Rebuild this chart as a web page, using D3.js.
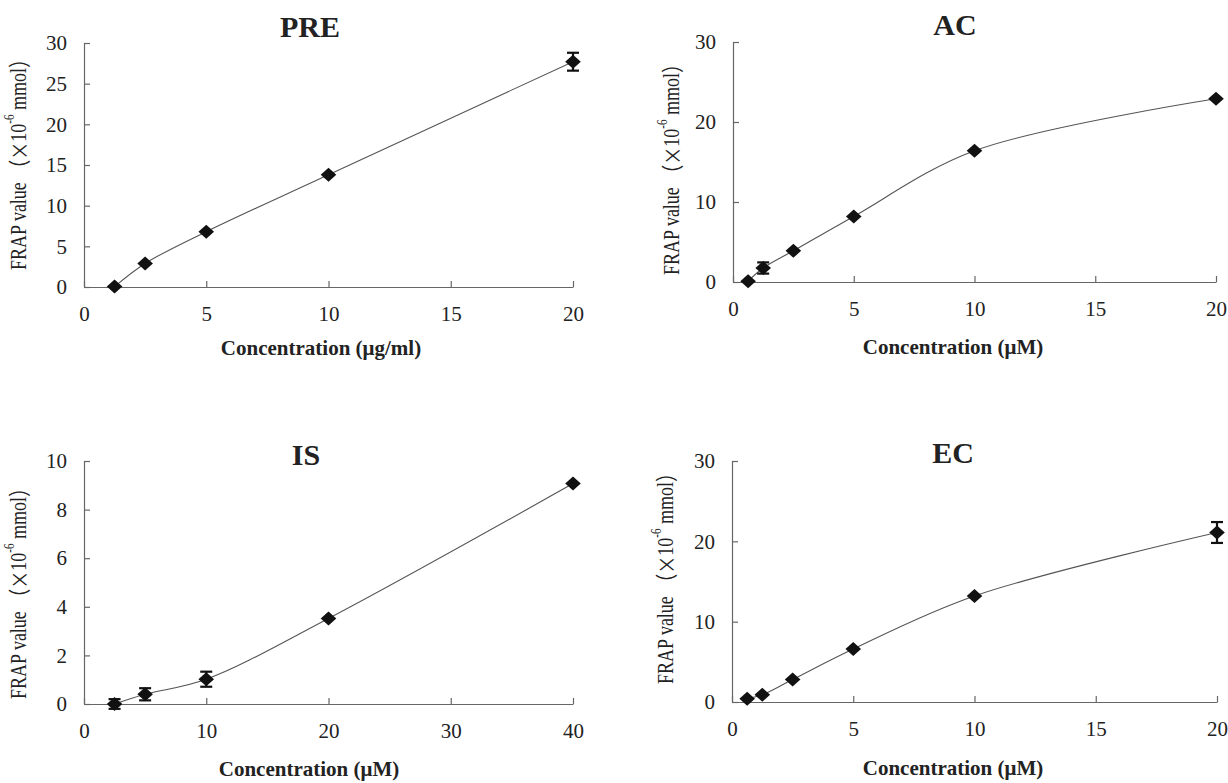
<!DOCTYPE html>
<html>
<head>
<meta charset="utf-8">
<script src="https://cdn.jsdelivr.net/npm/d3@7"></script>
<style>
  body { margin: 0; background: #fff; }
  text { font-family: "Liberation Serif", "Times New Roman", serif; fill: #222; }
</style>
</head>
<body>
<svg id="chart" width="1228" height="783"></svg>
<script>
// PRE
var preConc = [1.25, 2.5, 5, 10, 20];
var preFrap = [0.05, 2.9, 6.8, 13.8, 27.7];
var preErr = [0, 0, 0, 0, 1.1];
var preXTicks = [0, 5, 10, 15, 20];
var preYTicks = [0, 5, 10, 15, 20, 25, 30];

// AC
var acConc = [0.625, 1.25, 2.5, 5, 10, 20];
var acFrap = [0.1, 1.75, 3.9, 8.2, 16.4, 22.9];
var acErr = [0, 0.7, 0, 0, 0, 0];
var acXTicks = [0, 5, 10, 15, 20];
var acYTicks = [0, 10, 20, 30];

// IS
var isConc = [2.5, 5, 10, 20, 40];
var isFrap = [0.0, 0.4, 1.02, 3.52, 9.07];
var isErr = [0.2, 0.25, 0.31, 0, 0];
var isXTicks = [0, 10, 20, 30, 40];
var isYTicks = [0, 2, 4, 6, 8, 10];

// EC
var ecConc = [0.625, 1.25, 2.5, 5, 10, 20];
var ecFrap = [0.4, 0.9, 2.8, 6.6, 13.2, 21.1];
var ecErr = [0, 0, 0, 0, 0, 1.3];
var ecXTicks = [0, 5, 10, 15, 20];
var ecYTicks = [0, 10, 20, 30];

var panels = [
  { title: "PRE", xLabel: "Concentration (μg/ml)", conc: preConc, frap: preFrap, err: preErr,
    xTicks: preXTicks, yTicks: preYTicks, left: 84, right: 573, top: 43, bottom: 287,
    titleX: 310, titleY: 37, labelX: 321, labelY: 355, yLabX: 18, yLabY: 160 },
  { title: "AC", xLabel: "Concentration (μM)", conc: acConc, frap: acFrap, err: acErr,
    xTicks: acXTicks, yTicks: acYTicks, left: 733, right: 1216, top: 42, bottom: 282,
    titleX: 955, titleY: 35, labelX: 953, labelY: 354, yLabX: 671, yLabY: 165 },
  { title: "IS", xLabel: "Concentration (μM)", conc: isConc, frap: isFrap, err: isErr,
    xTicks: isXTicks, yTicks: isYTicks, left: 84, right: 573, top: 461, bottom: 704,
    titleX: 306, titleY: 465, labelX: 309, labelY: 776, yLabX: 18, yLabY: 589 },
  { title: "EC", xLabel: "Concentration (μM)", conc: ecConc, frap: ecFrap, err: ecErr,
    xTicks: ecXTicks, yTicks: ecYTicks, left: 732, right: 1217, top: 461, bottom: 702,
    titleX: 953, titleY: 463, labelX: 953, labelY: 775, yLabX: 665, yLabY: 574 }
];

var svg = d3.select("#chart");

// diamond marker, a bit wider than tall like the original
var diamond = {
  draw: function (ctx) {
    var w = 7.8, h = 7;
    ctx.moveTo(0, -h);
    ctx.lineTo(w, 0);
    ctx.lineTo(0, h);
    ctx.lineTo(-w, 0);
    ctx.closePath();
  }
};

var cjk = "'Noto Sans CJK SC', sans-serif";

panels.forEach(function (p) {
  var data = p.conc.map(function (c, i) {
    return { x: c, y: p.frap[i], e: p.err[i] };
  });

  var x = d3.scaleLinear()
    .domain([0, d3.max(p.xTicks)])
    .range([p.left, p.right]);
  var y = d3.scaleLinear()
    .domain([0, d3.max(p.yTicks)])
    .range([p.bottom, p.top]);

  var g = svg.append("g");

  // axes, ticks point inward
  var xAxis = g.append("g")
    .attr("transform", "translate(0," + p.bottom + ")")
    .call(d3.axisBottom(x).tickValues(p.xTicks).tickSizeInner(-6).tickSizeOuter(0).tickPadding(19))
    .attr("font-size", 21);
  var yAxis = g.append("g")
    .attr("transform", "translate(" + p.left + ",0)")
    .call(d3.axisLeft(y).tickValues(p.yTicks).tickSizeInner(-6).tickSizeOuter(0).tickPadding(17))
    .attr("font-size", 21);
  [xAxis, yAxis].forEach(function (a) {
    a.selectAll("path, line").attr("stroke", "#666").attr("stroke-width", 1.2);
  });

  // smoothed line
  var line = d3.line()
    .x(function (d) { return x(d.x); })
    .y(function (d) { return y(d.y); })
    .curve(d3.curveCatmullRom.alpha(0.5));

  g.append("path")
    .datum(data)
    .attr("fill", "none")
    .attr("stroke", "#555")
    .attr("stroke-width", 1.1)
    .attr("d", line);

  // error bars
  var eb = g.selectAll(".err")
    .data(data.filter(function (d) { return d.e > 0; }))
    .enter().append("g")
    .attr("stroke", "#111")
    .attr("stroke-width", 2.2);
  eb.append("line")
    .attr("x1", function (d) { return x(d.x); })
    .attr("x2", function (d) { return x(d.x); })
    .attr("y1", function (d) { return y(d.y + d.e); })
    .attr("y2", function (d) { return y(d.y - d.e); });
  eb.append("line")
    .attr("x1", function (d) { return x(d.x) - 6; })
    .attr("x2", function (d) { return x(d.x) + 6; })
    .attr("y1", function (d) { return y(d.y + d.e); })
    .attr("y2", function (d) { return y(d.y + d.e); });
  eb.append("line")
    .attr("x1", function (d) { return x(d.x) - 6; })
    .attr("x2", function (d) { return x(d.x) + 6; })
    .attr("y1", function (d) { return y(d.y - d.e); })
    .attr("y2", function (d) { return y(d.y - d.e); });

  // markers
  g.selectAll(".pt")
    .data(data)
    .enter().append("path")
    .attr("transform", function (d) { return "translate(" + x(d.x) + "," + y(d.y) + ")"; })
    .attr("d", d3.symbol().type(diamond))
    .attr("fill", "#111");

  // title
  g.append("text")
    .attr("x", p.titleX)
    .attr("y", p.titleY)
    .attr("text-anchor", "middle")
    .style("font-size", "30px")
    .style("font-weight", "bold")
    .text(p.title);

  // x label
  g.append("text")
    .attr("x", p.labelX)
    .attr("y", p.labelY)
    .attr("text-anchor", "middle")
    .style("font-size", "21px")
    .style("font-weight", "bold")
    .text(p.xLabel);

  // y label (glyphs look wider in the original, so stretch across)
  var yl = g.append("text")
    .attr("transform", "translate(" + p.yLabX + "," + p.yLabY + ") rotate(-90) scale(1,1.25)")
    .attr("text-anchor", "middle")
    .attr("dominant-baseline", "central")
    .style("font-size", "18px");
  yl.append("tspan").text("FRAP value ");
  yl.append("tspan").style("font-family", cjk).text("（");
  yl.append("tspan").style("font-family", cjk).text("×");
  yl.append("tspan").text("10");
  yl.append("tspan").attr("dy", -7).style("font-size", "11px").text("-6");
  yl.append("tspan").attr("dy", 7).text(" mmol");
  yl.append("tspan").style("font-family", cjk).text("）");
});
</script>
</body>
</html>
